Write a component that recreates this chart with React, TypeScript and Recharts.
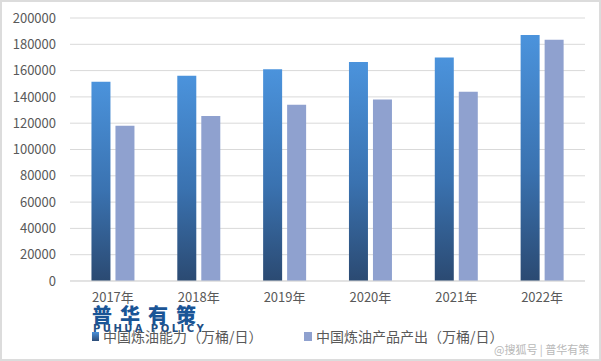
import { BarChart, Bar, XAxis, YAxis, CartesianGrid } from "recharts";

const years = ["2017年", "2018年", "2019年", "2020年", "2021年", "2022年"];
const capacity = [151500, 156000, 161000, 166500, 170000, 187000];
const output = [118000, 125500, 134000, 138000, 144000, 183500];
const yTicks = [0, 20000, 40000, 60000, 80000, 100000, 120000, 140000, 160000, 180000, 200000];

const capacityName = "中国炼油能力（万桶/日）";
const outputName = "中国炼油产品产出（万桶/日）";

const data = years.map((y, i) => ({ year: y, capacity: capacity[i], output: output[i] }));

const font = '"Microsoft YaHei", "Noto Sans CJK SC", "Liberation Sans", sans-serif';
const axisColor = "#595959";

function LegendRow() {
  return (
    <div style={{ position: "absolute", left: 0, top: 325, width: 601, height: 20, fontFamily: font, fontSize: 14, lineHeight: "18px", color: axisColor }}>
      <div style={{ position: "absolute", left: 90, top: 0, display: "flex", alignItems: "center" }}>
        <span style={{ width: 7, height: 9, background: "linear-gradient(#4a90d9, #2d4d78)", marginRight: 4 }} />
        {capacityName}
      </div>
      <div style={{ position: "absolute", left: 302, top: 0, display: "flex", alignItems: "center" }}>
        <span style={{ width: 8, height: 9, background: "#8fa1cf", marginRight: 4 }} />
        {outputName}
      </div>
    </div>
  );
}

export default function App() {
  return (
    <div style={{ position: "absolute", left: 0, top: 0, width: 601, height: 361, background: "#fff", boxSizing: "border-box", border: "2px solid #dcdcdc" }}>
      <BarChart
        width={597}
        height={357}
        data={data}
        margin={{ top: 16, right: 14, left: 6, bottom: 50 }}
        barCategoryGap="25%"
        barGap={5}
      >
        <defs>
          <linearGradient id="capGrad" x1="0" y1="0" x2="0" y2="1">
            <stop offset="0%" stopColor="#4b93dc" />
            <stop offset="55%" stopColor="#3a72b0" />
            <stop offset="100%" stopColor="#2b4a72" />
          </linearGradient>
        </defs>
        <CartesianGrid vertical={false} stroke="#d9d9d9" />
        <XAxis
          dataKey="year"
          axisLine={{ stroke: "#d9d9d9" }}
          tickLine={false}
          tick={{ fontSize: 13, fill: axisColor, fontFamily: font }}
          tickMargin={6}
          height={28}
        />
        <YAxis
          domain={[0, 200000]}
          ticks={yTicks}
          interval={0}
          axisLine={false}
          tickLine={false}
          tick={{ fontSize: 13, fill: axisColor, fontFamily: font }}
          tickMargin={8}
          width={62}
        />
        <Bar dataKey="capacity" name={capacityName} fill="url(#capGrad)" isAnimationActive={false} />
        <Bar dataKey="output" name={outputName} fill="#8fa1cf" isAnimationActive={false} />
      </BarChart>
      <LegendRow />
      <div style={{ position: "absolute", left: 90, top: 303, fontFamily: font, color: "#1a5596", fontWeight: 900, fontSize: 20, letterSpacing: 8, lineHeight: "20px" }}>
        普华有策
      </div>
      <div style={{ position: "absolute", left: 91, top: 322, fontFamily: '"DejaVu Sans", sans-serif', color: "#1f4f86", fontWeight: 700, fontSize: 10, letterSpacing: 2.5, lineHeight: "10px" }}>
        PUHUA POLICY
      </div>
      <div style={{ position: "absolute", left: 492, top: 341, fontFamily: font, color: "#b8b8b8", fontSize: 11, lineHeight: "13px" }}>
        @搜狐号 | 普华有策
      </div>
    </div>
  );
}
